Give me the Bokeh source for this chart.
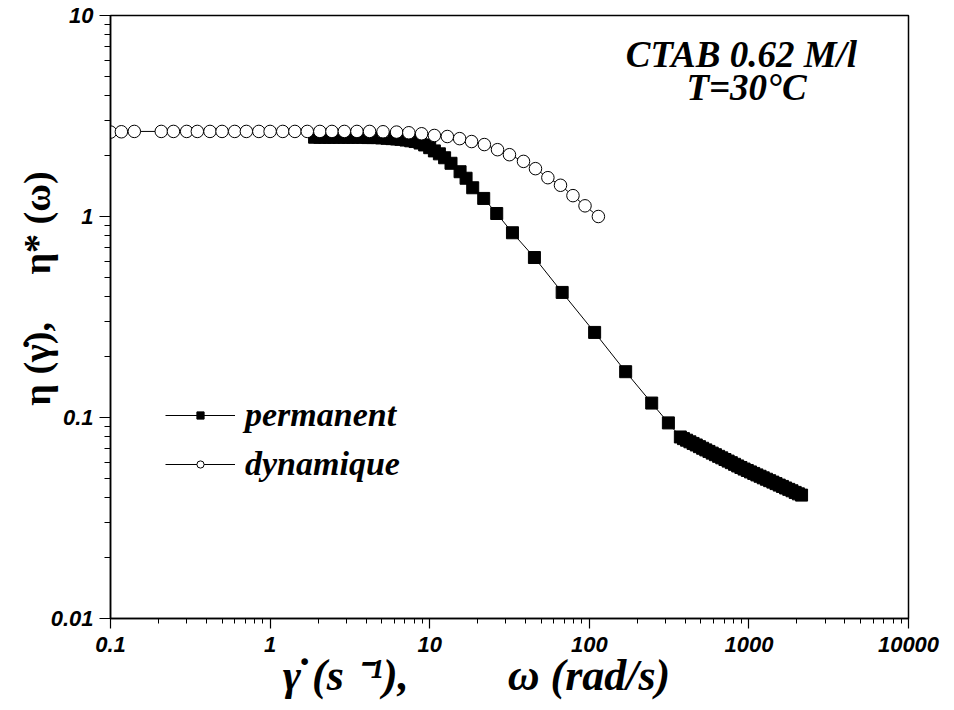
from bokeh.plotting import figure
from bokeh.models import FixedTicker, Label, Legend, LegendItem
from bokeh.embed import file_html
from bokeh.resources import INLINE

# ---- data ----
# dynamic (oscillatory) complex viscosity eta*(omega)
omega = [0.1, 0.117, 0.141, 0.208, 0.248, 0.30, 0.35, 0.42, 0.50, 0.60, 0.71,
         0.85, 1.0, 1.2, 1.43, 1.71, 2.05, 2.44, 2.92, 3.5, 4.2,
         5.1, 6.2, 7.4, 8.9, 10.7, 12.9, 15.4, 18.3, 22, 26.6, 31.6, 38.7,
         46, 55, 66, 79, 94, 114]
eta_star = [2.63, 2.64, 2.65, 2.65, 2.65, 2.65, 2.65, 2.65, 2.65, 2.65, 2.65,
            2.65, 2.65, 2.65, 2.65, 2.65, 2.65, 2.65, 2.65, 2.65, 2.65,
            2.64, 2.63, 2.61, 2.58, 2.53, 2.50, 2.44, 2.36, 2.28, 2.15, 2.03, 1.88,
            1.73, 1.56, 1.43, 1.27, 1.13, 1.0]

# steady shear viscosity eta(gamma_dot)
gd_low = [1.9, 2.05, 2.2, 2.35, 2.5, 2.7, 2.9, 3.1, 3.3, 3.55, 3.8, 4.1, 4.4, 4.7,
          5.0, 5.4, 5.8, 6.2, 6.6, 7.1, 7.6, 8.1, 8.7, 9.3, 10.0, 10.7, 11.5, 12.4]
eta_low = [2.48, 2.48, 2.48, 2.48, 2.48, 2.48, 2.48, 2.48, 2.48, 2.48, 2.48, 2.47, 2.47, 2.47,
           2.46, 2.45, 2.44, 2.43, 2.42, 2.40, 2.38, 2.36, 2.32, 2.27, 2.20, 2.12, 2.05, 1.96]
gd_mid = [13.6, 15.5, 16.9, 18.6, 21.8, 26.3, 33, 45.3, 67.6, 108, 169, 246, 313]
eta_mid = [1.84, 1.67, 1.55, 1.39, 1.23, 1.035, 0.83, 0.625, 0.419, 0.265, 0.169, 0.118, 0.094]
gd_high = [372, 389, 407, 427, 447, 468, 490, 513, 537, 562, 589, 617, 646, 676, 708,
           741, 776, 813, 851, 891, 933, 977, 1023, 1072, 1122, 1175, 1230, 1288, 1349,
           1413, 1479, 1549, 1622, 1698, 1778, 1862, 1950, 2042, 2138]
eta_high = [0.0800, 0.0785, 0.0771, 0.0757, 0.0743, 0.0730, 0.0716, 0.0703, 0.0690, 0.0678,
            0.0665, 0.0653, 0.0641, 0.0630, 0.0618, 0.0607, 0.0596, 0.0585, 0.0574, 0.0564,
            0.0554, 0.0545, 0.0536, 0.0527, 0.0518, 0.0510, 0.0501, 0.0493, 0.0485, 0.0477,
            0.0469, 0.0461, 0.0454, 0.0446, 0.0439, 0.0432, 0.0424, 0.0417, 0.0411]

gamma_dot = gd_low + gd_mid + gd_high
eta = eta_low + eta_mid + eta_high

x_ticks = [0.1, 1, 10, 100, 1000, 10000]
x_tick_labels = ["0.1", "1", "10", "100", "1000", "10000"]
y_ticks = [0.01, 0.1, 1, 10]
y_tick_labels = ["0.01", "0.1", "1", "10"]

series_names = ["permanent", "dynamique"]
annotation_lines = ["CTAB 0.62 M/l", "T=30°C"]

SERIF = "Liberation Serif"
nb = "\u00a0"

# ---- figure ----
p = figure(width=944, height=710, x_axis_type="log", y_axis_type="log",
           x_range=(0.1, 10000), y_range=(0.01, 10),
           output_backend="svg", toolbar_location=None,
           min_border_left=110, min_border_right=36, min_border_top=15, min_border_bottom=92)
p.grid.visible = False
p.outline_line_color = "black"
p.outline_line_width = 1.5
p.background_fill_color = "white"
p.border_fill_color = "white"


def minors(majors):
    out = []
    for m in majors[:-1]:
        for k in range(2, 10):
            out.append(m * k)
    return out


p.xaxis.ticker = FixedTicker(ticks=x_ticks, minor_ticks=minors(x_ticks))
p.yaxis.ticker = FixedTicker(ticks=y_ticks, minor_ticks=minors(y_ticks))
p.xaxis.major_label_overrides = dict(zip(x_ticks, x_tick_labels))
p.yaxis.major_label_overrides = dict(zip(y_ticks, y_tick_labels))

for ax in (p.xaxis, p.yaxis):
    ax.axis_line_color = "black"
    ax.axis_line_width = 1.5
    ax.major_tick_line_color = "black"
    ax.minor_tick_line_color = "black"
    ax.major_tick_line_width = 1.2
    ax.minor_tick_line_width = 1
    ax.major_tick_in = 0
    ax.minor_tick_in = 0
    ax.major_label_text_font = "Liberation Sans"
    ax.major_label_text_font_style = "bold italic"
    ax.major_label_text_font_size = "22px"
    ax.major_label_text_color = "black"
    ax.axis_label_text_font = SERIF
    ax.axis_label_text_color = "black"

p.xaxis.major_tick_out = 10
p.xaxis.minor_tick_out = 5
p.yaxis.major_tick_out = 11
p.yaxis.minor_tick_out = 6
p.xaxis.major_label_standoff = 8
p.yaxis.major_label_standoff = 6

p.xaxis.axis_label = ("\u03b3\u0307 (s\u00a0\u207b\u00b9)," + nb * 9 + "\u03c9 (rad/s)" + nb * 6)
p.xaxis.axis_label_text_font_style = "bold italic"
p.xaxis.axis_label_text_font_size = "44px"
p.xaxis.axis_label_standoff = -4

p.yaxis.axis_label = nb * 6 + "\u03b7 (\u03b3\u0307)," + nb * 5 + "\u03b7* (\u03c9)"
p.yaxis.axis_label_text_font_style = "bold"
p.yaxis.axis_label_text_font_size = "38px"
p.yaxis.axis_label_standoff = -10

# permanent: line + filled squares
l1 = p.line(gamma_dot, eta, line_color="black", line_width=1)
s1 = p.scatter(gamma_dot, eta, marker="square", size=12, fill_color="black", line_color="black")
# dynamique: line + open circles
l2 = p.line(omega, eta_star, line_color="black", line_width=1)
s2 = p.scatter(omega, eta_star, marker="circle", size=12.5, fill_color="white",
               line_color="black", line_width=1)

legend = Legend(items=[LegendItem(label=series_names[0], renderers=[l1, s1]),
                       LegendItem(label=series_names[1], renderers=[l2, s2])],
                location=(55, 135), orientation="vertical",
                border_line_alpha=0, background_fill_alpha=0,
                padding=0, margin=0, spacing=11,
                glyph_width=70, glyph_height=18, label_height=36, label_standoff=10,
                label_text_font=SERIF, label_text_font_style="bold italic",
                label_text_font_size="34px", label_text_color="black")
p.add_layout(legend, "center")

# annotation (px relative to the plot frame's bottom-left)
for text, xx, yy in zip(annotation_lines, [631, 636], [564, 531]):
    p.add_layout(Label(x=xx, y=yy, x_units="screen", y_units="screen", text=text,
                       text_align="center", text_baseline="alphabetic",
                       text_font=SERIF, text_font_style="bold italic",
                       text_font_size="37px", text_color="black"))

open("out.html", "w").write(file_html(p, INLINE))
